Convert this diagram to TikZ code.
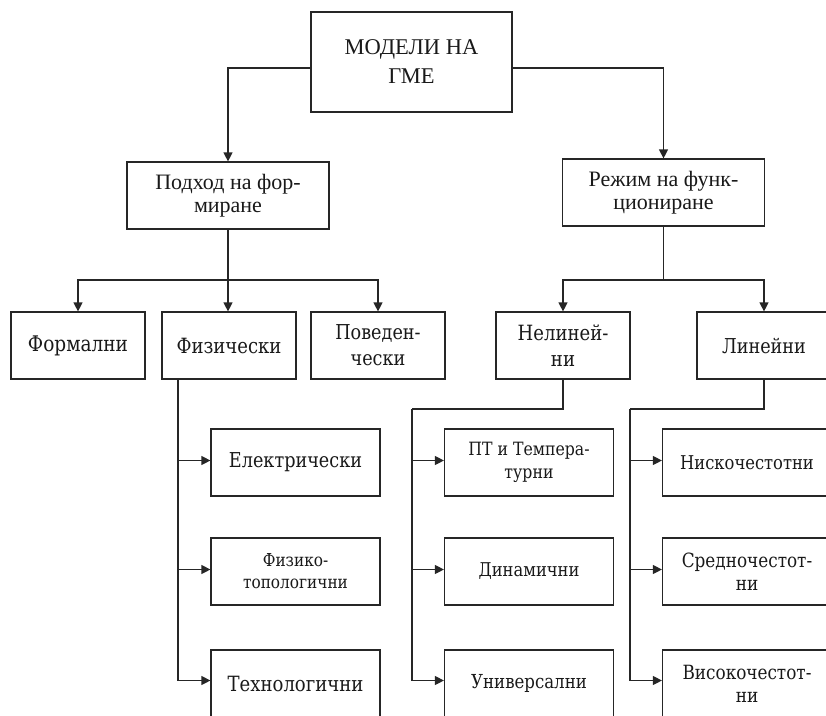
\documentclass[tikz,border=0pt]{standalone}
\usepackage{fontspec}
\setmainfont{Liberation Serif}
\newfontfamily\leaffont{DejaVu Serif}[FakeStretch=0.86]
\usetikzlibrary{arrows.meta}
\newcommand\lf[2]{\leaffont\fontsize{#1}{#2}\selectfont}
\begin{document}
\begin{tikzpicture}[x=1pt,y=-1pt,
  box/.style={draw=black!85, line width=1.2pt, rectangle, inner sep=0pt,
    align=center, minimum height=67pt, text=black!90},
  topbox/.style={box, minimum width=201pt, minimum height=100pt,
    font=\fontsize{22.5}{29}\selectfont},
  midbox/.style={box, minimum width=202pt, font=\fontsize{22}{23}\selectfont},
  catbox/.style={box, minimum width=134pt, font=\lf{20.5}{26}},
  leafbox/.style={box, minimum width=169pt, font=\lf{19}{23}},
  link/.style={draw=black!85, line width=1.2pt},
  arr/.style={link, -{Triangle[length=9pt,width=9pt]}}]
\useasboundingbox (0,0) rectangle (826,715);
\clip (0,0) rectangle (826,715);

% root and the two classification criteria
\node[topbox] (root) at (411.5,62) {МОДЕЛИ НА\\ГМЕ};
\node[midbox] (approach) at (228,195.5) {Подход на фор-\\миране};
\node[midbox] (mode) at (663.5,192.5) {Режим на функ-\\циониране};

% categories
\node[catbox, font=\lf{21.5}{26}] (formal) at (78,345.5) {Формални};
\node[catbox, font=\lf{21}{26}] (phys) at (229,345.5) {Физически};
\node[catbox] (behav) at (378,345.5) {Поведен-\\чески};
\node[catbox, font=\lf{21}{26}] (nonlin) at (563,345.5) {Нелиней-\\ни};
\node[catbox] (lin) at (764,345.5) {Линейни};

% sub-types of physical models
\node[leafbox, font=\lf{20.5}{23}] (elec) at (295.5,462.5) {Електрически};
\node[leafbox, font=\lf{17.8}{22}] (phtop) at (295.5,571.5) {Физико-\\топологични};
\node[leafbox, font=\lf{21}{23}] (tech) at (295.5,683.5) {Технологични};

% sub-types of nonlinear models
\node[leafbox, font=\lf{18.3}{23}] (ptt) at (529,462.5) {ПТ и Темпера-\\турни};
\node[leafbox] (dyn) at (529,571.5) {Динамични};
\node[leafbox, font=\lf{19.3}{23}] (univ) at (529,683.5) {Универсални};

% sub-types of linear models
\node[leafbox] (lowf) at (747,462.5) {Нискочестотни};
\node[leafbox, font=\lf{19.6}{23}] (midf) at (747,571.5) {Средночестот-\\ни};
\node[leafbox, font=\lf{19.6}{23}] (highf) at (747,683.5) {Високочестот-\\ни};

% root to criteria
\draw[arr] ([yshift=-6pt]root.west) -| (approach.north);
\draw[arr] ([yshift=-6pt]root.east) -| (mode.north);

% approach to categories
\coordinate (aj) at (228,280);
\draw[link] (approach.south) -- (aj);
\draw[arr] (aj) -| (formal.north);
\draw[arr] (aj) -- (aj |- phys.north);
\draw[arr] (aj) -| (behav.north);

% mode to categories
\coordinate (mj) at (663.5,280);
\draw[link] (mode.south) -- (mj);
\draw[arr] (mj) -| (nonlin.north);
\draw[arr] (mj) -| (lin.north);

% physical models bus
\coordinate (pj) at (178,379);
\draw[arr] (pj) |- ([yshift=2pt]elec.west);
\draw[arr] (pj) |- ([yshift=2pt]phtop.west);
\draw[arr] (pj) |- ([yshift=3pt]tech.west);

% nonlinear models bus
\coordinate (nj) at (412,409);
\draw[link] (nonlin.south) |- (nj);
\draw[arr] (nj) |- ([yshift=2pt]ptt.west);
\draw[arr] (nj) |- ([yshift=2pt]dyn.west);
\draw[arr] (nj) |- ([yshift=3pt]univ.west);

% linear models bus
\coordinate (lj) at (630,409);
\draw[link] (lin.south) |- (lj);
\draw[arr] (lj) |- ([yshift=2pt]lowf.west);
\draw[arr] (lj) |- ([yshift=2pt]midf.west);
\draw[arr] (lj) |- ([yshift=3pt]highf.west);
\end{tikzpicture}
\end{document}
